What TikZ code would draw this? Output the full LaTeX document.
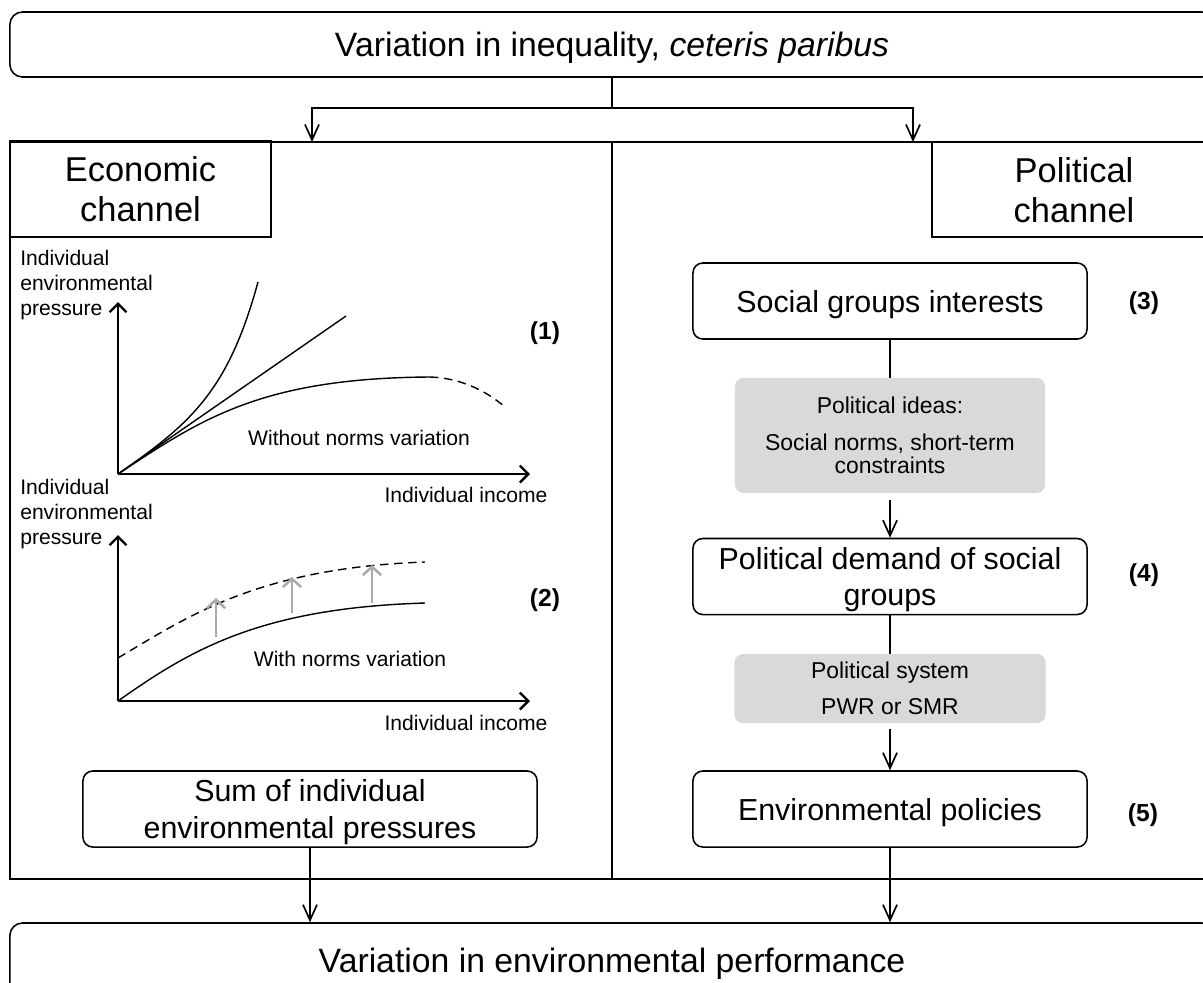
\documentclass[tikz,border=0pt]{standalone}
\usepackage{fontspec}
\setmainfont{Liberation Sans}
\usepackage{xcolor}
\usepackage{tikz}
\usetikzlibrary{arrows.meta,positioning}
\definecolor{ideaGray}{RGB}{217,217,217}
\definecolor{normGray}{RGB}{170,170,170}
\newcommand{\titletxt}{\fontsize{24}{28}\selectfont}
\newcommand{\chantxt}{\fontsize{24.5}{28.5}\selectfont}
\newcommand{\boxtxt}{\fontsize{21.6}{26}\selectfont}
\newcommand{\greytxt}{\fontsize{16.3}{17}\selectfont}
\newcommand{\axistxt}{\fontsize{15}{17.8}\selectfont}
\newcommand{\numtxt}{\fontsize{17.5}{20}\selectfont\bfseries}

\begin{document}
\begin{tikzpicture}[x=0.025cm, y=-0.025cm,
    flowbox/.style={draw, line width=1.1pt, rounded corners=7pt, align=center, inner sep=0pt,
        minimum width=9.85cm, minimum height=1.9cm, text depth=0pt, font=\boxtxt},
    ideabox/.style={fill=ideaGray, rounded corners=6pt, align=center, inner sep=0pt, font=\greytxt},
    flow/.style={line width=0.9pt, -{Straight Barb[length=11pt,width=10pt,line width=1.2pt]}},
    link/.style={line width=0.9pt},
    axis/.style={line width=1.3pt, -{Straight Barb[length=6pt,width=12pt,line width=1.7pt]}},
    curve/.style={line width=1pt},
    normarrow/.style={normGray, line width=1.4pt, -{Straight Barb[length=6pt,width=13pt,line width=1.8pt]}}]
    \useasboundingbox (0,0) rectangle (1203,982);
    \clip (0,0) rectangle (1203,982);

    % top and bottom boxes
    \node[flowbox, rounded corners=9pt, minimum width=30.1cm, minimum height=1.625cm, font=\titletxt]
        (ineq) at (612,44.5) {Variation in inequality, \textit{ceteris paribus}};
    \node[flowbox, rounded corners=9pt, minimum width=30.1cm, minimum height=1.85cm, font=\titletxt]
        (perf) at (612,960) {Variation in environmental performance};

    % the two channels
    \draw[line width=1.1pt] (10,142) rectangle (1220,879);
    \draw[line width=1pt] (612,142) -- (612,879);
    \node[draw, line width=1.1pt, align=center, inner sep=0pt, minimum width=6.525cm, minimum height=2.4cm,
        font=\chantxt] (econ) at (140.5,189) {Economic\\channel};
    \draw[line width=1.1pt] (932,142) rectangle (1220,237);
    \node[align=center, font=\chantxt] (polit) at (1074,190) {Political\\channel};

    \coordinate (fork) at (612,108);
    \coordinate (econin) at (312,142);
    \coordinate (politin) at (913,142);
    \draw[link] (ineq.south) -- (fork);
    \draw[flow] (fork) -| (econin);
    \draw[flow] (fork) -| (politin);

    % economic channel, first graph
    \node[anchor=west, align=left, inner sep=0pt, font=\axistxt] (ylab1) at (20,285)
        {Individual\\environmental\\pressure};
    \draw[axis] (118,474) -- (118,302);
    \draw[axis] (118,474) -- (530,474);
    \draw[curve] (118,474) .. controls (190,424) and (228,392) .. (258,282);
    \draw[curve] (118,474) -- (346,316);
    \draw[curve] (118,474) .. controls (200,420) and (260,378) .. (430,377);
    \draw[curve, dash pattern=on 6pt off 4pt] (430,377) .. controls (460,378) and (485,390) .. (505,407);
    \node[font=\axistxt] (woutnorms) at (359,438) {Without norms variation};
    \node[font=\axistxt] (xlab1) at (466,495) {Individual income};
    \node[font=\numtxt] (n1) at (545,333) {(1)};

    % economic channel, second graph
    \node[anchor=west, align=left, inner sep=0pt, font=\axistxt] (ylab2) at (20,514)
        {Individual\\environmental\\pressure};
    \draw[axis] (118,701) -- (118,535);
    \draw[axis] (118,701) -- (530,701);
    \draw[curve] (118,701) .. controls (190,650) and (260,608) .. (425,603);
    \draw[curve, dash pattern=on 6pt off 4pt] (118,658) .. controls (190,615) and (260,568) .. (425,562);
    \draw[normarrow] (216,637) -- (216,598);
    \draw[normarrow] (292,613) -- (292,577);
    \draw[normarrow] (372,603) -- (372,565);
    \node[font=\axistxt] (withnorms) at (350,659) {With norms variation};
    \node[font=\axistxt] (xlab2) at (466,723) {Individual income};
    \node[font=\numtxt] (n2) at (545,600) {(2)};

    \node[flowbox, minimum width=11.35cm] (sum) at (310,809)
        {Sum of individual\\environmental pressures};

    % political channel
    \node[flowbox] (groups) at (890,301) {Social groups interests};
    \node[ideabox, minimum width=7.75cm, minimum height=2.875cm] (ideas) at (890,435.5)
        {Political ideas:\\[9pt]Social norms, short-term\\constraints};
    \node[flowbox] (demand) at (890,576.5) {Political demand of social\\groups};
    \node[ideabox, minimum width=7.775cm, minimum height=1.725cm] (system) at (890,688.5)
        {Political system\\[9pt]PWR or SMR};
    \node[flowbox] (policies) at (890,809) {Environmental policies};
    \node[font=\numtxt] (n3) at (1144,303) {(3)};
    \node[font=\numtxt] (n4) at (1144,575) {(4)};
    \node[font=\numtxt] (n5) at (1143,815) {(5)};

    \draw[link] (groups) -- (ideas);
    \draw[flow, shorten <=5pt] (ideas) -- (demand);
    \draw[link] (demand) -- (system);
    \draw[flow, shorten <=4pt] (system) -- (policies);

    % into the result
    \draw[flow] (sum.south) -- (sum.south |- perf.north);
    \draw[flow] (policies.south) -- (policies.south |- perf.north);
\end{tikzpicture}
\end{document}
